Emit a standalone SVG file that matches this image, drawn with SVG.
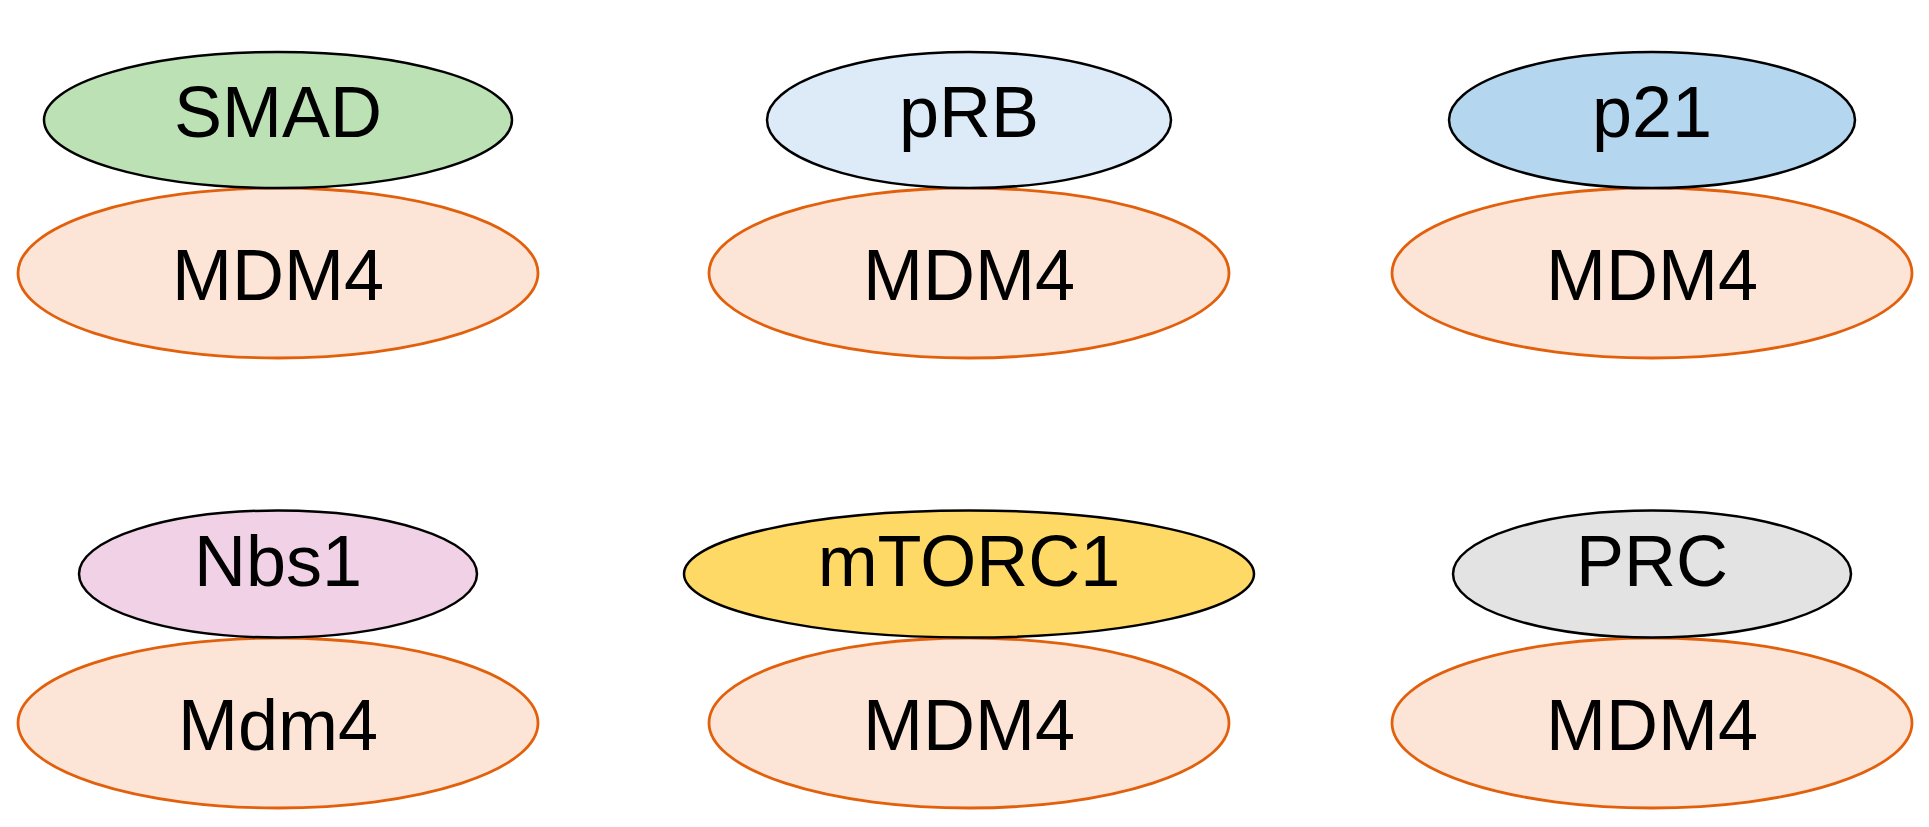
<svg xmlns="http://www.w3.org/2000/svg" width="1929" height="827" viewBox="0 0 1929 827">
<style>
  .top { stroke: #000000; stroke-width: 2.5; }
  .mdm { fill: #fce5d6; stroke: #e2600c; stroke-width: 2.8; }
  text { font-family: "Liberation Sans", Arial, sans-serif; font-size: 72px; fill: #000000; text-anchor: middle; }
</style>
<rect x="0" y="0" width="1929" height="827" fill="#ffffff"/>
<g id="connectors"></g>
<g id="mdm4-1"><ellipse class="mdm" cx="278" cy="273" rx="260" ry="85"/><text x="278" y="300">MDM4</text></g>
<g id="smad"><ellipse class="top" cx="278" cy="120" rx="234" ry="68" fill="#bbe1b5"/><text x="278" y="137">SMAD</text></g>
<g id="mdm4-2"><ellipse class="mdm" cx="969" cy="273" rx="260" ry="85"/><text x="969" y="300">MDM4</text></g>
<g id="prb"><ellipse class="top" cx="969" cy="120" rx="202" ry="68" fill="#dcebf7"/><text x="969" y="137">pRB</text></g>
<g id="mdm4-3"><ellipse class="mdm" cx="1652" cy="273" rx="260" ry="85"/><text x="1652" y="300">MDM4</text></g>
<g id="p21"><ellipse class="top" cx="1652" cy="120" rx="203" ry="68" fill="#b4d6ef"/><text x="1652" y="137">p21</text></g>
<g id="mdm4-4"><ellipse class="mdm" cx="278" cy="723" rx="260" ry="85"/><text x="278" y="750">Mdm4</text></g>
<g id="nbs1"><ellipse class="top" cx="278" cy="574" rx="199" ry="63.5" fill="#f0d1e5"/><text x="278" y="586">Nbs1</text></g>
<g id="mdm4-5"><ellipse class="mdm" cx="969" cy="723" rx="260" ry="85"/><text x="969" y="750">MDM4</text></g>
<g id="mtorc1"><ellipse class="top" cx="969" cy="574" rx="285" ry="63.5" fill="#ffd966"/><text x="969" y="586">mTORC1</text></g>
<g id="mdm4-6"><ellipse class="mdm" cx="1652" cy="723" rx="260" ry="85"/><text x="1652" y="750">MDM4</text></g>
<g id="prc"><ellipse class="top" cx="1652" cy="574" rx="199" ry="63.5" fill="#e3e3e3"/><text x="1652" y="586">PRC</text></g>
</svg>
